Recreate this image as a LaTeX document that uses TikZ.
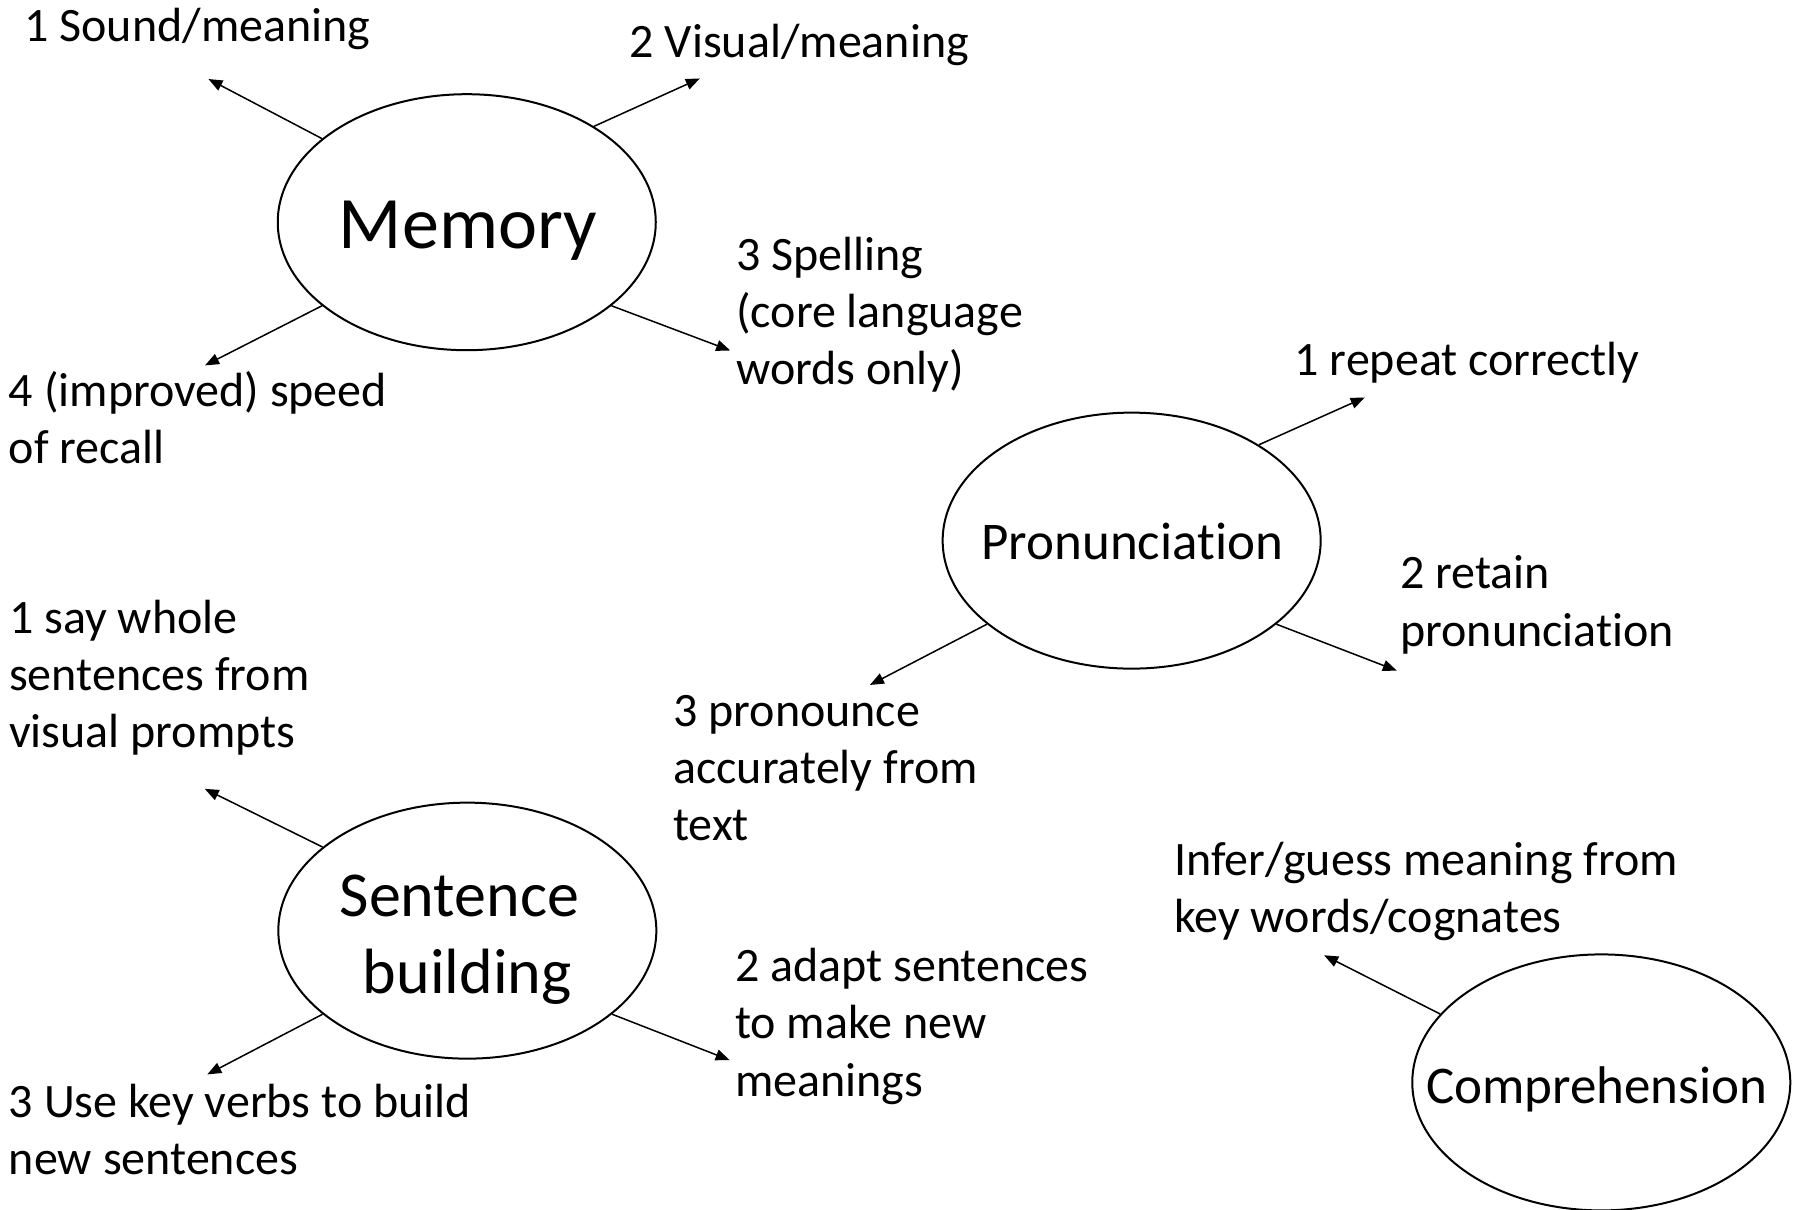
\documentclass[tikz,border=0pt]{standalone}
\usepackage{fontspec}
\setmainfont[Ligatures=NoCommon]{Carlito}
\usetikzlibrary{shapes.geometric,arrows.meta}
% multi-line text blocks whose baseline is the first line
\newcommand\linesleft[1]{\begin{tabular}[t]{@{}l@{}}#1\end{tabular}}
\newcommand\linescentre[1]{\begin{tabular}[t]{@{}c@{}}#1\end{tabular}}
\begin{document}
\begin{tikzpicture}[x=0.5727pt,y=-0.5727pt,
  topic/.style={ellipse,draw,line width=1pt,minimum width=189pt,minimum height=128pt,inner sep=0pt},
  topictext/.style={anchor=base,inner sep=0pt},
  link/.style={line width=0.75pt,-{Triangle[length=7pt,width=5.5pt]}},
  note/.style={anchor=base west,inner sep=0pt,font=\fontsize{24}{28.64}\selectfont}]

\path[use as bounding box,fill=white] (0,0) rectangle (1568,1056);

% topic ellipses
\node[topic] (mem) at (407.5,194) {};
\node[topic] (pro) at (988,472) {};
\node[topic] (sen) at (408,812.5) {};
\node[topic] (com) at (1398,945) {};

% topic names
\node[topictext,font=\fontsize{37}{44}\selectfont] (memt) at (408.5,217) {Memory};
\node[topictext,font=\fontsize{26.5}{32}\selectfont] (prot) at (988.5,488.5) {Pronunciation};
\node[topictext,font=\fontsize{32}{38.5}\selectfont] (sent) at (408,800) {\linescentre{Sentence\kern0.25em\\building}};
\node[topictext,font=\fontsize{26.5}{32}\selectfont] (comt) at (1394,963) {Comprehension};

% arrow ends
\coordinate (m1) at (182,69);
\coordinate (m2) at (611,68.5);
\coordinate (m3) at (637.5,306);
\coordinate (m4) at (179,319);
\coordinate (p1) at (1191.5,347);
\coordinate (p2) at (1219.5,585.5);
\coordinate (p3) at (759.5,598);
\coordinate (s1) at (178.8,688.7);
\coordinate (s2) at (637,925.5);
\coordinate (s3) at (181,938);
\coordinate (c1) at (1156,834);

% arrows
\draw[link] (mem.150) -- (m1);
\draw[link] (mem.37) -- (m2);
\draw[link] (mem.-30) -- (m3);
\draw[link] (mem.210) -- (m4);
\draw[link] (pro.37) -- (p1);
\draw[link] (pro.-30) -- (p2);
\draw[link] (pro.210) -- (p3);
\draw[link] (sen.150) -- (s1);
\draw[link] (sen.-30) -- (s2);
\draw[link] (sen.210) -- (s3);
\draw[link] (com.157) -- (c1);

% outcome labels
\node[note] (lm1) at (21,36.5) {1 Sound/meaning};
\node[note] (lm2) at (549.5,50) {2 Visual/meaning};
\node[note] (lm3) at (642.5,236) {\linesleft{3 Spelling\\(core language\\words only)}};
\node[note] (lm4) at (7.5,355) {\linesleft{4 (improved) speed\\of recall}};
\node[note] (lp1) at (1130,328) {1 repeat correctly};
\node[note] (lp2) at (1222.3,514) {\linesleft{2 retain\\pronunciation}};
\node[note] (lp3) at (587.5,634) {\linesleft{3 pronounce\\accurately from\\text}};
\node[note] (ls1) at (7.7,553) {\linesleft{1 say whole\\sentences from\\visual prompts}};
\node[note] (ls2) at (641.5,857) {\linesleft{2 adapt sentences\\to make new\\meanings}};
\node[note] (ls3) at (7.5,975.5) {\linesleft{3 Use key verbs to build\\new sentences}};
\node[note] (lc1) at (1025,764.5) {\linesleft{Infer/guess meaning from\\key words/cognates}};
\end{tikzpicture}
\end{document}
